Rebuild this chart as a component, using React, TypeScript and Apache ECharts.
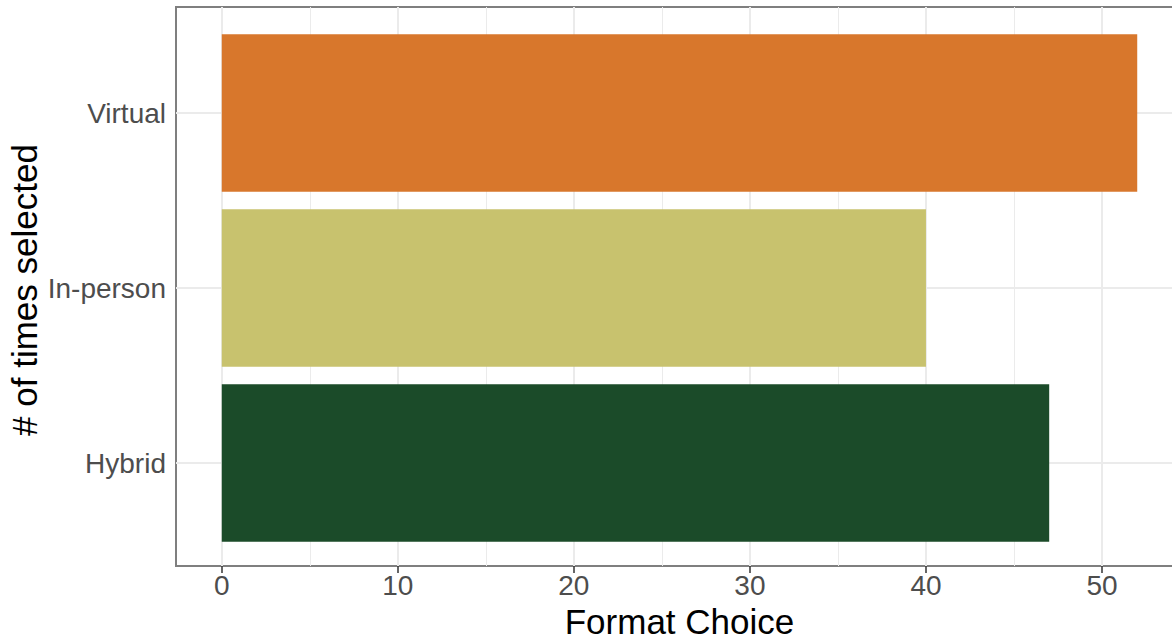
import React, { useEffect, useRef } from "react";
import * as echarts from "echarts";

const categories = ["Hybrid", "In-person", "Virtual"];
const counts = [47, 40, 52];
const barColors = ["#1B4B29", "#C8C26E", "#D8772C"];
const xTicks = [0, 10, 20, 30, 40, 50];
const xMinorGrid = [5, 15, 25, 35, 45];
const xMin = -2.6;
const xMax = 54.6;
const xTitle = "Format Choice";
const yTitle = "# of times selected";

const FONT = "Liberation Sans, Arial, Helvetica, sans-serif";

export default function App() {
  const ref = useRef<HTMLDivElement>(null);
  useEffect(() => {
    if (!ref.current) return;
    const chart = echarts.init(ref.current, undefined, { renderer: "svg" });
    const gridLeft = 176;
    const gridRight = 0;
    chart.setOption({
      animation: false,
      backgroundColor: "#ffffff",
      textStyle: { fontFamily: FONT },
      grid: [
        { left: gridLeft, right: gridRight, top: 25.5, bottom: 83.5, containLabel: false, outerBoundsMode: "none" },
        {
          left: gridLeft,
          right: gridRight,
          top: 7,
          bottom: 68,
          containLabel: false,
          outerBoundsMode: "none",
          show: true,
          borderColor: "#7f7f7f",
          borderWidth: 2,
          backgroundColor: "transparent",
        },
      ],
      xAxis: [
        { type: "value", gridIndex: 0, min: xMin, max: xMax, show: false },
        {
          type: "value",
          gridIndex: 1,
          min: xMin,
          max: xMax,
          axisLine: { show: false },
          splitLine: { show: false },
          axisTick: {
            show: true,
            length: 7,
            customValues: xTicks,
            lineStyle: { color: "#333333", width: 1.5 },
          },
          axisLabel: {
            show: true,
            customValues: xTicks,
            fontSize: 28,
            color: "#4D4D4D",
            margin: 5,
            fontFamily: FONT,
          },
          name: xTitle,
          nameLocation: "middle",
          nameGap: 35,
          nameTextStyle: { fontSize: 35, lineHeight: 28, color: "#000000", fontFamily: FONT },
        },
      ],
      yAxis: [
        {
          type: "category",
          gridIndex: 0,
          data: categories,
          axisLine: { show: false },
          axisTick: {
            show: true,
            alignWithLabel: true,
            length: 7,
            lineStyle: { color: "#333333", width: 1.5 },
          },
          axisLabel: { fontSize: 28, color: "#4D4D4D", margin: 10, fontFamily: FONT },
          splitLine: { show: false },
        },
        {
          type: "value",
          gridIndex: 1,
          min: 0,
          max: 1,
          show: false,
        },
      ],
      graphic: [
        {
          type: "text",
          x: 24,
          y: 290,
          rotation: Math.PI / 2,
          style: {
            text: yTitle,
            fontSize: 35,
            fill: "#000000",
            fontFamily: FONT,
            align: "center",
            verticalAlign: "middle",
          },
        },
      ],
      series: [
        {
          type: "line",
          xAxisIndex: 1,
          yAxisIndex: 1,
          data: [],
          z: 1,
          silent: true,
          markLine: {
            z: 1,
            silent: true,
            symbol: "none",
            label: { show: false },
            data: [
              ...xTicks.map((v) => ({ xAxis: v, lineStyle: { color: "#EBEBEB", width: 2, type: "solid" } })),
              ...xMinorGrid.map((v) => ({ xAxis: v, lineStyle: { color: "#EBEBEB", width: 1, type: "solid" } })),
            ],
          },
        },
        {
          type: "line",
          xAxisIndex: 0,
          yAxisIndex: 0,
          data: [],
          z: 1,
          silent: true,
          markLine: {
            z: 1,
            silent: true,
            symbol: "none",
            label: { show: false },
            data: categories.map((c) => ({ yAxis: c, lineStyle: { color: "#EBEBEB", width: 2, type: "solid" } })),
          },
        },
        {
          type: "bar",
          xAxisIndex: 0,
          yAxisIndex: 0,
          z: 3,
          barCategoryGap: "10%",
          data: counts.map((v, i) => ({ value: v, itemStyle: { color: barColors[i] } })),
        },
      ],
    });
    return () => chart.dispose();
  }, []);
  return (
    <div style={{ position: "absolute", left: 0, top: 0, width: 1172, height: 634, overflow: "hidden" }}>
      <div ref={ref} style={{ position: "absolute", left: 0, top: 0, width: 1183, height: 634 }} />
    </div>
  );
}
